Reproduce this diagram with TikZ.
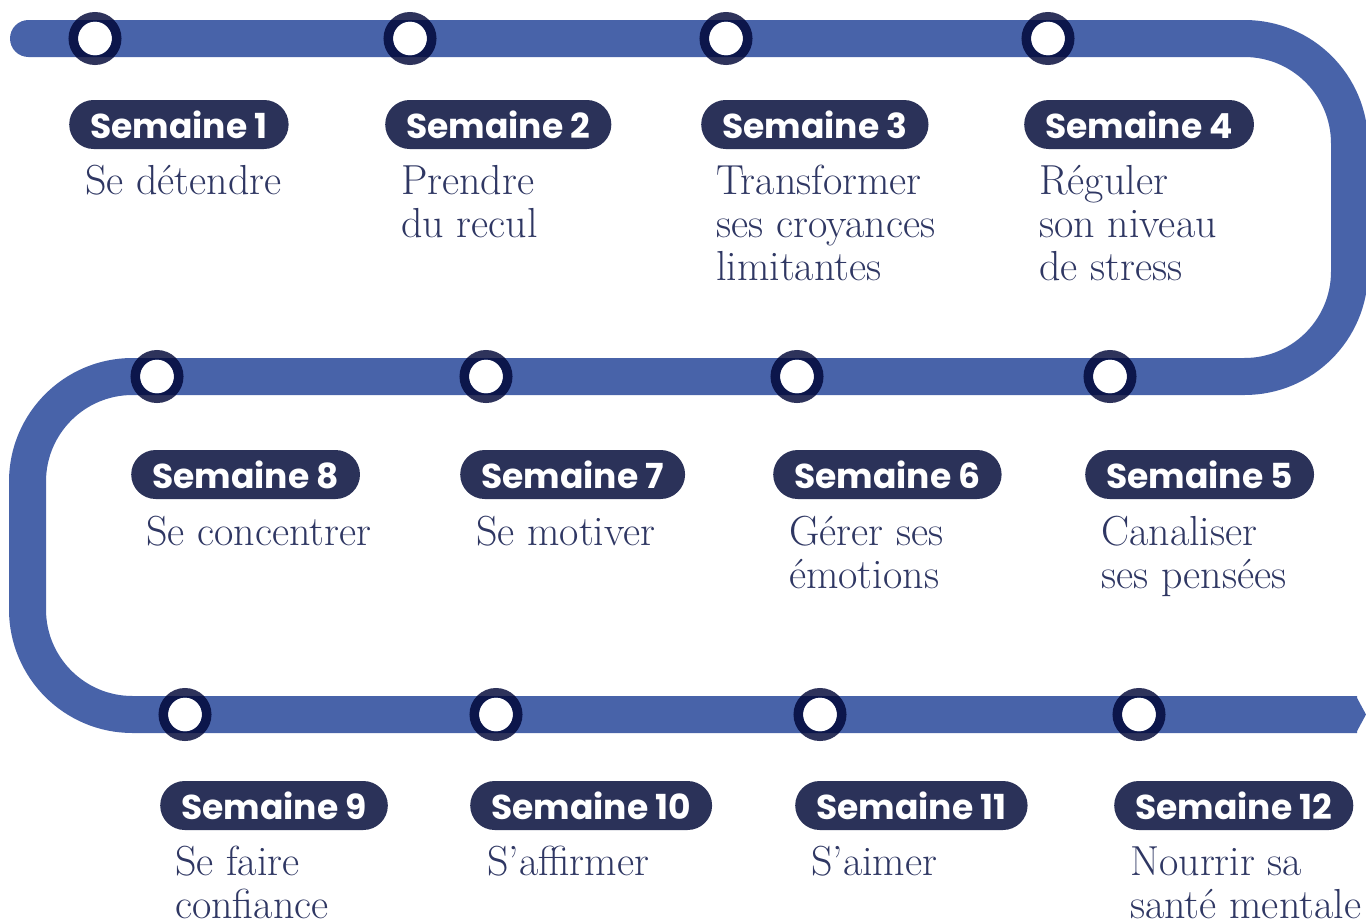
\documentclass[tikz,border=0pt]{standalone}
\usepackage{fontspec}
\newfontfamily\badgefont{Poppins}
\definecolor{trackc}{HTML}{4863A9}
\definecolor{ringc}{HTML}{000637}
\definecolor{badgec}{HTML}{2B3259}
\definecolor{descc}{HTML}{2F3763}
\tikzset{
  track/.style={draw=trackc, line width=37pt, line cap=butt, rounded corners=105pt},
  stop/.style={circle, fill=white, minimum size=34pt, inner sep=0pt},
  ring/.style={draw=ringc, draw opacity=0.82, line width=9.5pt},
  badge/.style={fill=badgec, text=white, rounded corners=24.5pt, minimum height=49pt, inner xsep=21pt, inner ysep=0pt, anchor=west, font=\badgefont\bfseries\fontsize{34.5}{34.5}\selectfont},
  desc/.style={text=descc, align=left, anchor=base west, inner sep=0pt, font=\fontsize{42}{43}\selectfont}
}
\begin{document}
\begin{tikzpicture}[x=1pt,y=-1pt]
\useasboundingbox (0,0) rectangle (1366,921);
% track
\coordinate (start) at (28.5,38.5);
\coordinate (c1) at (1349.5,38.5);
\coordinate (c2) at (1349.5,376.5);
\coordinate (c3) at (27.5,376.5);
\coordinate (c4) at (27.5,714.5);
\coordinate (end) at (1357,714.5);
\draw[track] (start) -- (c1) -- (c2) -- (c3) -- (c4) -- (end);
\fill[trackc] (start) circle (18.5);
\fill[trackc] (1356,696) -- (1366,714.5) -- (1356,733) -- cycle;
% stops
\node[stop] (s1) at (95,38.5) {};
\node[stop] (s2) at (410,38.5) {};
\node[stop] (s3) at (726,38.5) {};
\node[stop] (s4) at (1048,38.5) {};
\node[stop] (s5) at (1110,376.5) {};
\node[stop] (s6) at (797,376.5) {};
\node[stop] (s7) at (486,376.5) {};
\node[stop] (s8) at (157,376.5) {};
\node[stop] (s9) at (185,714.5) {};
\node[stop] (s10) at (496,714.5) {};
\node[stop] (s11) at (820,714.5) {};
\node[stop] (s12) at (1139,714.5) {};
\foreach \s in {s1,s2,s3,s4,s5,s6,s7,s8,s9,s10,s11,s12}
  \draw[ring] (\s.center) circle (21.75);
% badges
\node[badge] (b1) at (69,124.5) {Semaine 1};
\node[badge] (b2) at (385,124.5) {Semaine 2};
\node[badge] (b3) at (701,124.5) {Semaine 3};
\node[badge] (b4) at (1024,124.5) {Semaine 4};
\node[badge] (b8) at (131,474.5) {Semaine 8};
\node[badge] (b7) at (460,474.5) {Semaine 7};
\node[badge] (b6) at (773,474.5) {Semaine 6};
\node[badge] (b5) at (1085,474.5) {Semaine 5};
\node[badge] (b9) at (160,805.5) {Semaine 9};
\node[badge] (b10) at (470,805.5) {Semaine 10};
\node[badge] (b11) at (795,805.5) {Semaine 11};
\node[badge] (b12) at (1114,805.5) {Semaine 12};
% descriptions (anchor = baseline of last line)
\node[desc] (d1) at (85,194) {Se détendre};
\node[desc] (d2) at (401,237) {Prendre\\du recul};
\node[desc] (d3) at (716,280) {Transformer\\ses croyances\\limitantes};
\node[desc] (d4) at (1039,280) {Réguler\\son niveau\\de stress};
\node[desc] (d8) at (146,545) {Se concentrer};
\node[desc] (d7) at (476,545) {Se motiver};
\node[desc] (d6) at (789,588) {Gérer ses\\émotions};
\node[desc] (d5) at (1101,588) {Canaliser\\ses pensées};
\node[desc] (d9) at (175,918) {Se faire\\confiance};
\node[desc] (d10) at (487,875) {S’affirmer};
\node[desc] (d11) at (811,875) {S’aimer};
\node[desc] (d12) at (1130,918) {Nourrir sa\\santé mentale};
\end{tikzpicture}
\end{document}
